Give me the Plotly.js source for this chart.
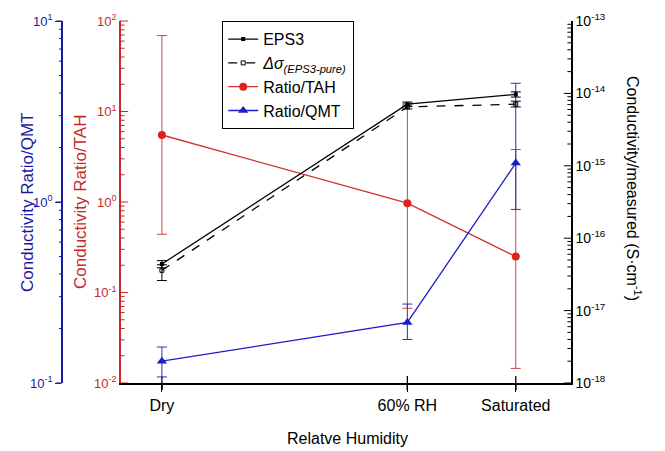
<!DOCTYPE html>
<html>
<head>
<meta charset="utf-8">
<script src="https://cdn.plot.ly/plotly-3.0.1.min.js"></script>
<style>html,body{margin:0;padding:0;background:#fff;}#chart{width:665px;height:451px;}</style>
</head>
<body>
<div id="chart"></div>
<script>
// ---- data ----
const humidity = [0, 60, 86.5];
const humidityLabels = ['Dry', '60% RH', 'Saturated'];

const eps3 = [4.4e-17, 7.1e-15, 9.7e-15];
const eps3Hi = [4.9e-17, 7.6e-15, 1.05e-14];
const eps3Lo = [3.9e-17, 6.6e-15, 8.9e-15];

const deltaPure = [3.6e-17, 6.5e-15, 7.1e-15];
const deltaPureHi = [4.3e-17, 6.9e-15, 7.8e-15];
const deltaPureLo = [2.6e-17, 6.1e-15, 6.5e-15];

const ratioTAH = [5.5, 0.97, 0.25];
const ratioTAHHi = [69, 12.3, 3.8];
const ratioTAHLo = [0.44, 0.067, 0.0145];

const ratioQMT = [0.132, 0.216, 1.64];
const ratioQMTHi = [0.158, 0.273, 4.53];
const ratioQMTLo = [0.108, 0.174, 0.91];

const tahTicks = [0.01, 0.1, 1, 10, 100];
const tahTickText = ['10<sup>-2</sup>', '10<sup>-1</sup>', '10<sup>0</sup>', '10<sup>1</sup>', '10<sup>2</sup>'];
const qmtTicks = [0.1, 1, 10];
const qmtTickText = ['10<sup>-1</sup>', '10<sup>0</sup>', '10<sup>1</sup>'];
const measTicks = [1e-18, 1e-17, 1e-16, 1e-15, 1e-14, 1e-13];
const measTickText = ['10<sup>-18</sup>', '10<sup>-17</sup>', '10<sup>-16</sup>', '10<sup>-15</sup>', '10<sup>-14</sup>', '10<sup>-13</sup>'];

// ---- helpers ----
function up(v, hi) { return v.map((y, i) => hi[i] - y); }
function dn(v, lo) { return v.map((y, i) => y - lo[i]); }
function minorVals(e0, e1) {
  const out = [];
  for (let e = e0; e < e1; e++) for (let m = 2; m <= 9; m++) out.push(m * Math.pow(10, e));
  return out;
}

const RED = '#e0201c';
const REDLINE = '#d2302c';
const REDERR = '#c9464a';
const REDAX = '#c8282a';
const BLUE = '#1c1cc8';
const BLUEAX = '#1a1aa0';
const FONT = 'Liberation Sans, Arial, sans-serif';

const W = 665, H = 451;
const px = v => v / W;
const py = v => 1 - v / H;
const xDom = [px(121), px(571)];
const xRange = [-10, 100];
const yDom = [py(383), py(21)];
const xUnitsPerPx = (xRange[1] - xRange[0]) / 450;

// decorative tick-mark traces (drawn through the axes' own scales)
function tickTrace(yaxis, xCenter, vals, len, color, symbol) {
  return {
    x: vals.map(() => xCenter), y: vals, yaxis: yaxis, mode: 'markers', showlegend: false, hoverinfo: 'skip',
    cliponaxis: false,
    marker: {symbol: symbol || 'line-ew', size: len, color: color, line: {width: 1, color: color}}
  };
}

const traces = [
  {
    x: humidity, y: eps3, yaxis: 'y3', name: 'EPS3', mode: 'lines+markers',
    line: {color: '#000', width: 1.3},
    marker: {symbol: 'square', size: 4, color: '#000'},
    error_y: {type: 'data', symmetric: false, array: up(eps3, eps3Hi), arrayminus: dn(eps3, eps3Lo), color: '#000', thickness: 1, width: 5}
  },
  {
    x: humidity, y: deltaPure, yaxis: 'y3', name: '<i>Δσ<sub>(EPS3-pure)</sub></i>', mode: 'lines+markers',
    line: {color: '#000', width: 1.3, dash: 'dash'},
    marker: {symbol: 'square-open', size: 4, color: '#000'},
    error_y: {type: 'data', symmetric: false, array: up(deltaPure, deltaPureHi), arrayminus: dn(deltaPure, deltaPureLo), color: '#000', thickness: 1, width: 5}
  },
  {
    x: humidity, y: ratioTAH, yaxis: 'y', name: 'Ratio/TAH', mode: 'lines+markers',
    line: {color: REDLINE, width: 1.3},
    marker: {symbol: 'circle', size: 8, color: RED},
    error_y: {type: 'data', symmetric: false, array: up(ratioTAH, ratioTAHHi), arrayminus: dn(ratioTAH, ratioTAHLo), color: REDERR, thickness: 1, width: 5}
  },
  {
    x: humidity, y: ratioQMT, yaxis: 'y2', name: 'Ratio/QMT', mode: 'lines+markers',
    line: {color: BLUE, width: 1.3},
    marker: {symbol: 'triangle-up', size: 9, color: BLUE},
    error_y: {type: 'data', symmetric: false, array: up(ratioQMT, ratioQMTHi), arrayminus: dn(ratioQMT, ratioQMTLo), color: '#3030b0', thickness: 1, width: 5}
  },
  // inside ticks of the red (left) and black (right) axes
  tickTrace('y', xRange[0] + 3 * xUnitsPerPx, tahTicks, 6, REDAX),
  tickTrace('y', xRange[0] + 1.5 * xUnitsPerPx, minorVals(-2, 2), 3, REDAX),
  tickTrace('y3', xRange[1] - 3 * xUnitsPerPx, measTicks, 6, '#000'),
  tickTrace('y3', xRange[1] - 1.5 * xUnitsPerPx, minorVals(-18, -13), 3, '#000'),
  // category ticks on the bottom axis
  {x: humidity, y: humidity.map(() => tahTicks[0]), yaxis: 'y', mode: 'markers', showlegend: false, hoverinfo: 'skip',
   cliponaxis: false, marker: {symbol: 'line-ns', size: 10, color: '#000', line: {width: 1.3, color: '#000'}}}
];

// tick marks also as paper-referenced shapes (covers the outer blue axis and x ticks)
const shapes = [];
function yPaper(v, r) { return yDom[0] + (Math.log10(v) - r[0]) / (r[1] - r[0]) * (yDom[1] - yDom[0]); }
function xPaper(v) { return xDom[0] + (v - xRange[0]) / (xRange[1] - xRange[0]) * (xDom[1] - xDom[0]); }
function yTicks(vals, r, xPix, dir, len, color) {
  vals.forEach(v => {
    const yy = yPaper(v, r);
    shapes.push({type: 'line', xref: 'paper', yref: 'paper', x0: px(xPix), x1: px(xPix + dir * len), y0: yy, y1: yy,
                 line: {color: color, width: 1}, layer: 'above'});
  });
}
yTicks(qmtTicks, [-1, 1], 62, -1, 6, BLUEAX);
yTicks(minorVals(-1, 1), [-1, 1], 62, -1, 3, BLUEAX);
humidity.forEach(v => {
  const xx = xPaper(v);
  shapes.push({type: 'line', xref: 'paper', yref: 'paper', x0: xx, x1: xx, y0: py(383), y1: py(390),
               line: {color: '#000', width: 1.3}, layer: 'above'});
});

const layout = {
  width: W, height: H,
  margin: {l: 0, r: 0, t: 0, b: 0},
  paper_bgcolor: '#fff', plot_bgcolor: '#fff',
  font: {family: FONT, size: 14, color: '#000'},
  showlegend: true,
  legend: {
    x: px(222), y: py(21), xanchor: 'left', yanchor: 'top',
    bordercolor: '#000', borderwidth: 1.2, bgcolor: '#fff',
    font: {family: FONT, size: 16, color: '#000'},
    tracegroupgap: 0, itemwidth: 30
  },
  xaxis: {
    domain: xDom, range: xRange,
    showline: true, linecolor: '#000', linewidth: 1.5,
    ticks: 'outside', ticklen: 7, tickcolor: '#000', tickwidth: 1.3,
    tickmode: 'array', tickvals: humidity, ticktext: humidityLabels,
    tickfont: {family: FONT, size: 16, color: '#000'},
    showgrid: false, zeroline: false, automargin: false
  },
  yaxis: {
    domain: yDom, type: 'log', range: [-2, 2],
    showline: true, linecolor: REDAX, linewidth: 1.5,
    ticks: '',
    tickmode: 'array', tickvals: tahTicks, ticktext: tahTickText,
    tickfont: {family: FONT, size: 13, color: REDAX},
    showgrid: false, zeroline: false, automargin: false
  },
  yaxis2: {
    overlaying: 'y', anchor: 'free', position: px(62), side: 'left',
    type: 'log', range: [-1, 1],
    showline: true, linecolor: BLUEAX, linewidth: 1.5,
    ticks: 'outside', ticklen: 6, tickcolor: BLUEAX, tickwidth: 1,
    tickmode: 'array', tickvals: qmtTicks, ticktext: qmtTickText,
    tickfont: {family: FONT, size: 13, color: BLUEAX},
    showgrid: false, zeroline: false, automargin: false
  },
  yaxis3: {
    overlaying: 'y', anchor: 'x', side: 'right',
    type: 'log', range: [-18, -13],
    showline: true, linecolor: '#000', linewidth: 1.5,
    ticks: '',
    tickmode: 'array', tickvals: measTicks, ticktext: measTickText,
    tickfont: {family: FONT, size: 14, color: '#000'},
    showgrid: false, zeroline: false, automargin: false
  },
  shapes: shapes,
  annotations: [
    {text: 'Conductivity Ratio/QMT', xref: 'paper', yref: 'paper', x: px(27), y: py(202), xanchor: 'center', yanchor: 'middle',
     textangle: -90, showarrow: false, font: {family: FONT, size: 17, color: BLUEAX}},
    {text: 'Conductivity Ratio/TAH', xref: 'paper', yref: 'paper', x: px(80), y: py(202), xanchor: 'center', yanchor: 'middle',
     textangle: -90, showarrow: false, font: {family: FONT, size: 17, color: REDAX}},
    {text: 'Conductivity/measured (S·cm<sup>-1</sup>)', xref: 'paper', yref: 'paper', x: px(634), y: py(188), xanchor: 'center', yanchor: 'middle',
     textangle: 90, showarrow: false, font: {family: FONT, size: 16, color: '#000'}},
    {text: 'Relatve Humidity', xref: 'paper', yref: 'paper', x: px(347), y: py(438), xanchor: 'center', yanchor: 'middle',
     showarrow: false, font: {family: FONT, size: 16, color: '#000'}}
  ]
};

Plotly.newPlot('chart', traces, layout, {displayModeBar: false});
</script>
</body>
</html>
